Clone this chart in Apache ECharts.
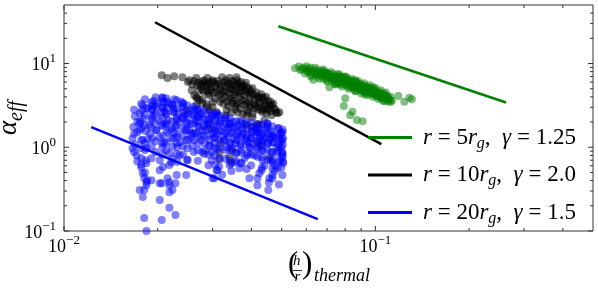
<!DOCTYPE html>
<html><head><meta charset="utf-8">
<script src="https://cdn.jsdelivr.net/npm/echarts@6/dist/echarts.min.js"></script>
<style>html,body{margin:0;padding:0;background:#fff}#c{width:598px;height:290px}</style>
</head><body><div id="c"></div>
<script>
// ---- data (x = (h/r)_thermal, y = alpha_eff) ----
const greenPts = [
[0.0552,8.8],[0.0568,9.2],[0.0575,8.3],[0.0588,8.9],[0.0595,7.6],[0.0602,8.5],[0.0610,7.9],[0.0618,8.9],[0.0625,7.3],[0.0632,6.4],
[0.0636,8.2],[0.0642,7.6],[0.0650,8.5],[0.0655,7.0],[0.0662,7.9],[0.0668,7.4],[0.0675,8.2],[0.0680,6.6],[0.0686,7.7],[0.0692,7.1],
[0.0698,6.4],[0.0704,7.6],[0.0710,6.9],[0.0712,5.2],[0.0716,7.3],[0.0722,6.3],[0.0728,6.9],[0.0734,7.5],[0.0740,6.1],[0.0745,6.7],
[0.0750,7.1],[0.0756,5.8],[0.0762,6.5],[0.0768,6.9],[0.0772,6.0],[0.0778,5.6],[0.0784,6.4],[0.0790,6.8],[0.0796,5.7],[0.0802,6.2],
[0.0808,5.4],[0.0814,6.5],[0.0820,5.9],[0.0826,5.2],[0.0832,6.2],[0.0838,5.6],[0.0844,6.0],[0.0850,5.0],[0.0856,5.8],[0.0862,5.4],
[0.0868,6.0],[0.0874,5.1],[0.0880,5.6],[0.0886,4.8],[0.0892,5.4],[0.0898,5.0],[0.0904,5.6],[0.0910,4.7],[0.0916,5.2],[0.0922,4.9],
[0.0928,5.4],[0.0934,4.5],[0.0940,5.0],[0.0946,4.7],[0.0952,5.2],[0.0958,4.4],[0.0964,4.9],[0.0970,4.6],[0.0976,5.0],[0.0982,4.3],
[0.0990,4.8],[0.0996,4.5],[0.1004,4.1],[0.1012,4.7],[0.1020,4.3],[0.1028,4.0],[0.1036,4.5],[0.1044,4.2],[0.1052,3.9],[0.1060,4.4],
[0.1068,4.0],[0.1076,4.2],[0.1084,3.8],[0.1092,4.1],[0.1100,3.9],[0.1110,3.7],[0.1120,4.0],[0.1130,3.6],
[0.0700,7.0],[0.0730,6.6],[0.0760,6.2],[0.0790,6.0],[0.0820,5.7],[0.0850,5.5],[0.0880,5.2],[0.0910,5.0],[0.0940,4.8],[0.0970,4.7],
[0.1000,4.5],[0.1030,4.3],[0.0745,5.6],[0.0805,6.9],[0.0865,4.7],[0.0925,4.3],[0.0985,5.2],[0.1045,3.8],[0.0690,8.0],[0.0765,7.3],
[0.0580,8.6],[0.0605,8.1],[0.0615,8.6],[0.0628,7.9],[0.0645,7.3],[0.0658,8.0],[0.0672,7.2],[0.0684,7.5],[0.0695,6.8],[0.0708,7.3],
[0.0720,6.7],[0.0732,7.0],[0.0742,6.4],[0.0754,6.6],[0.0766,6.3],[0.0775,6.6],[0.0786,6.1],[0.0798,6.5],[0.0810,5.9],[0.0822,6.3],
[0.0835,5.8],[0.0846,5.6],[0.0855,6.1],[0.0866,5.5],[0.0878,5.8],[0.0890,5.2],[0.0900,5.5],[0.0912,5.3],[0.0924,5.0],[0.0936,5.2],
[0.0948,4.8],[0.0960,5.0],[0.0972,4.5],[0.0984,4.7],[0.0995,4.3],[0.1008,4.5],[0.1018,4.1],[0.1032,4.4],[0.1048,4.0],[0.1058,4.2],
[0.1072,3.9],[0.1088,4.0],[0.0760,5.9],[0.0840,5.3],[0.0920,4.6],[0.0700,7.6],[0.0780,7.0],[0.0860,6.3],
[0.0600,9.3],[0.0640,8.9],[0.0680,8.5],[0.0720,7.9],[0.0760,7.5],[0.0800,7.0],[0.0840,6.6],[0.0880,6.2],[0.0920,5.8],[0.0960,5.5],
[0.1000,5.1],[0.1040,4.8],[0.1080,4.5],
[0.0620,7.0],[0.0660,6.6],[0.0700,6.1],[0.0740,5.7],[0.0780,5.3],[0.0820,5.0],[0.0860,4.7],[0.0900,4.4],[0.0940,4.2],[0.0980,4.0],
[0.1020,3.8],[0.1060,3.6],[0.1100,3.5],
[0.0800,3.85],[0.0792,3.1],[0.0844,2.65],[0.0830,2.42],[0.0872,2.11],[0.0910,2.05],[0.1185,4.1],[0.1239,3.49],[0.1286,3.9],[0.1310,3.75],
[0.1120,3.49],[0.1069,3.55]
];
const blackPts = [
[0.0206,7.25],[0.0215,6.7],[0.0226,7.05],[0.0240,6.85],[0.0253,6.3],[0.0266,6.7],[0.0278,6.15],[0.0289,6.7],[0.0300,6.3],[0.0322,6.85],
[0.0340,6.7],[0.0358,6.85],[0.0372,5.2],[0.0394,4.95],[0.0403,5.07],[0.0431,3.95],[0.0464,3.2],[0.0478,2.8],[0.0447,2.55],[0.0492,2.62],
[0.0418,1.89],[0.0403,2.28],[0.0385,2.4],
[0.0247,2.77],[0.0257,4.8],[0.0266,3.96],[0.0272,3.65],[0.0278,3.75],[0.0266,3.18],[0.0287,3.27],[0.0293,2.77],[0.0300,3.0],[0.0309,2.62],
[0.0333,2.77],[0.0347,3.36],[0.0355,2.85],[0.0388,2.77],[0.0262,4.18],[0.0268,3.85],[0.0278,3.36],[0.0293,4.18],[0.0287,3.0],[0.0293,1.94],
[0.0300,3.45],[0.0422,3.45],[0.0444,3.27],[0.0434,2.62],[0.0464,2.41],[0.0424,1.84],[0.0440,2.11],[0.0431,2.77],[0.0457,3.18],[0.0485,2.55],
[0.0385,1.84],[0.0401,1.74],[0.0418,1.15],[0.0431,1.06],[0.0319,1.12],[0.0347,0.924],[0.0316,0.874],[0.0340,0.762],[0.0316,0.72],[0.0345,0.646],
[0.0457,0.762],[0.0298,1.65],
[0.0270,5.9],[0.0275,5.3],[0.0271,4.75],[0.0282,6.3],[0.0285,5.45],[0.0281,4.6],[0.0292,5.8],[0.0295,5.1],[0.0291,4.4],
[0.0303,6.0],[0.0306,5.2],[0.0302,4.5],[0.0305,3.8],[0.0315,5.7],[0.0318,4.9],[0.0314,4.2],[0.0317,3.5],
[0.0327,6.0],[0.0330,5.3],[0.0326,4.7],[0.0329,4.0],[0.0325,3.3],[0.0339,5.6],[0.0342,5.1],[0.0338,4.4],[0.0341,3.8],[0.0337,3.1],
[0.0352,6.0],[0.0355,5.4],[0.0351,4.8],[0.0354,4.2],[0.0350,3.6],[0.0356,3.1],[0.0365,5.8],[0.0368,5.1],[0.0364,4.5],[0.0367,4.0],[0.0363,3.4],[0.0369,2.9],
[0.0379,5.5],[0.0382,4.8],[0.0378,4.2],[0.0381,3.6],[0.0377,3.2],[0.0393,4.4],[0.0396,3.9],[0.0392,3.5],[0.0395,3.0],
[0.0408,4.2],[0.0411,3.7],[0.0407,3.3],[0.0410,2.9],[0.0423,3.9],[0.0426,3.4],[0.0422,3.0],[0.0439,3.6],[0.0442,3.1],[0.0456,2.9],
[0.0250,6.0],[0.0258,5.6],[0.0262,6.2],[0.0268,5.5],[0.0276,5.7],[0.0284,5.9],[0.0290,5.4],[0.0297,6.1],[0.0308,5.6],[0.0312,6.2],
[0.0321,5.4],[0.0331,6.3],[0.0335,5.8],[0.0346,6.2],[0.0349,5.5],[0.0360,6.3],[0.0362,5.6],[0.0371,6.0],[0.0375,5.4],[0.0384,5.9],[0.0388,5.2],
[0.0278,4.9],[0.0288,4.7],[0.0297,4.8],[0.0310,4.6],[0.0320,4.4],[0.0333,4.6],[0.0345,4.9],[0.0357,4.5],[0.0372,4.7],[0.0386,4.5],
[0.0398,4.7],[0.0402,4.3],[0.0415,4.5],[0.0419,4.0],[0.0430,4.3],[0.0438,3.9],[0.0446,4.0],[0.0452,3.6],[0.0461,3.5],[0.0470,3.3],
[0.0322,3.8],[0.0335,3.5],[0.0347,3.9],[0.0358,3.3],[0.0372,3.7],[0.0385,3.3],[0.0398,3.2],[0.0412,3.1],[0.0420,2.8],[0.0436,2.9],
[0.0448,2.8],[0.0460,2.7],[0.0472,2.9],[0.0480,2.6],[0.0362,2.6],[0.0375,2.5],[0.0390,2.6],[0.0403,2.5],[0.0345,2.6],[0.0330,2.4]
];
const bluePts = [
[0.0179,3.18],[0.0175,2.55],[0.0175,1.94],[0.0172,1.51],[0.0179,1.22],[0.0184,0.976],[0.0188,1.84],[0.0191,2.28],[0.0192,2.77],[0.0195,3.18],
[0.0198,1.60],[0.0203,1.32],[0.0207,3.85],[0.0207,3.01],[0.0213,2.55],[0.0213,1.94],[0.0218,1.60],[0.0223,3.18],[0.0226,2.62],[0.0230,2.11],
[0.0231,1.32],[0.0231,1.00],[0.0235,0.805],[0.0240,2.28],[0.0247,1.94],[0.0247,1.22],[0.0253,1.60],[0.0257,1.32],[0.0262,2.77],[0.0268,2.28],
[0.0272,1.74],[0.0276,1.22],[0.0283,0.924],[0.0293,1.22],[0.0166,1.28],[0.0166,0.976],[0.0171,0.805],[0.0177,0.741],[0.0207,1.00],[0.0218,0.85],
[0.0172,0.683],[0.0177,0.579],[0.0184,0.646],[0.0179,0.49],[0.0181,0.428],[0.0185,0.405],[0.0175,0.308],[0.0179,0.254],[0.0184,0.353],[0.0181,0.143],
[0.0184,0.100],[0.0203,0.533],[0.0206,0.373],[0.0203,0.234],[0.0206,0.135],[0.0218,0.383],[0.0218,0.189],[0.0228,0.155],[0.0223,0.308],[0.0215,0.428],
[0.0230,0.465],[0.0221,0.664],[0.0249,0.702],[0.0247,0.465],[0.0278,0.874],[0.0300,0.428],[0.0311,0.533],[0.0340,0.612],[0.0348,0.976],[0.0380,0.741],
[0.0394,0.428],[0.0418,0.353],[0.0424,0.49],[0.0453,0.308],[0.0467,0.664],[0.0467,0.428],[0.0503,0.465],[0.0503,0.805],[0.0485,0.563],
[0.0182,0.50],[0.0184,0.383],[0.0181,0.308],[0.0191,0.405],[0.0203,0.373],[0.0218,0.353],[0.0218,0.291],[0.0228,0.373],[0.0218,0.612],[0.0203,0.702],
[0.0309,0.533],[0.0304,0.428],[0.0353,0.664],[0.0366,0.563],[0.0418,0.428],[0.0457,0.428],[0.0467,0.465],[0.0499,0.579],[0.0431,0.533],[0.0434,0.702],
[0.0298,0.702],
[0.0309,2.55],[0.0300,2.11],[0.0316,1.99],[0.0309,1.47],[0.0328,1.74],[0.0340,1.94],[0.0348,1.51],[0.0371,1.99],[0.0358,1.22],[0.0374,1.32],
[0.0403,1.60],[0.0424,1.51],[0.0450,1.94],[0.0447,1.32],[0.0434,1.12],[0.0467,1.32],[0.0499,1.47],[0.0503,1.22],[0.0492,1.00],[0.0481,0.85],
[0.0464,0.874],[0.0394,1.00],[0.0371,0.924],[0.0333,1.00],[0.0304,1.12],[0.0298,0.874],[0.0503,0.874],[0.0503,0.762],
[0.0207,3.96],[0.0210,3.45],[0.0226,3.75],[0.0192,3.18],[0.0240,3.01],[0.0268,2.85],[0.0276,2.48],[0.0298,2.48],[0.0311,2.41],[0.0340,1.89],
[0.0388,1.43],[0.0415,1.51],[0.0424,1.25],[0.0450,1.89],[0.0503,1.51],[0.0492,1.25],[0.0467,1.43],
[0.0180,2.2],[0.0178,1.7],[0.0186,2.9],[0.0189,1.45],[0.0194,2.4],[0.0200,3.3],[0.0205,2.6],[0.0208,1.8],[0.0210,1.15],[0.0215,3.5],
[0.0216,2.1],[0.0220,1.3],[0.0225,2.9],[0.0228,1.75],[0.0233,2.5],[0.0236,1.15],[0.0242,3.3],[0.0245,1.6],[0.0250,2.3],[0.0255,1.9],
[0.0258,1.05],[0.0260,2.5],[0.0265,1.5],[0.0270,2.0],[0.0274,1.35],[0.0280,2.2],[0.0285,1.6],[0.0290,1.9],[0.0295,1.05],[0.0302,1.7],
[0.0306,1.3],[0.0312,0.95],[0.0320,1.55],[0.0325,1.2],[0.0330,2.2],[0.0336,1.35],[0.0343,1.1],[0.0350,1.7],[0.0356,0.85],[0.0362,1.5],
[0.0368,1.1],[0.0376,1.7],[0.0384,1.2],[0.0390,0.85],[0.0398,1.3],[0.0405,1.1],[0.0410,0.8],[0.0416,1.7],[0.0420,0.95],[0.0428,1.35],
[0.0437,0.9],[0.0443,1.6],[0.0452,1.1],[0.0460,0.7],[0.0470,1.15],[0.0476,0.6],[0.0488,1.7],[0.0495,0.7],[0.0500,1.0],[0.0506,0.65],
[0.0306,0.62],[0.0322,0.47],[0.0345,0.52],[0.0372,0.65],[0.0386,0.55],[0.0440,0.6],[0.0455,0.38],[0.0475,0.52],[0.0490,0.36],
[0.0168,2.8],[0.0169,2.35],[0.0167,1.75],[0.0168,1.45],[0.0169,1.08],[0.0168,0.88],
[0.0177,3.3],[0.0178,2.75],[0.0176,2.05],[0.0175,1.62],[0.0177,1.22],[0.0176,0.98],[0.0177,0.62],
[0.0182,3.75],[0.0183,2.95],[0.0182,2.45],[0.0181,1.85],[0.0183,1.55],[0.0182,1.12],[0.0182,0.93],[0.0183,0.7],
[0.0191,3.45],[0.0192,2.85],[0.0191,2.15],[0.0190,1.75],[0.0192,1.28],[0.0191,1.03],[0.0191,0.74],
[0.0197,3.95],[0.0198,3.05],[0.0197,2.55],[0.0196,1.95],[0.0198,1.6],[0.0197,1.18],[0.0197,0.88],
[0.0207,3.55],[0.0208,2.95],[0.0207,2.25],[0.0206,1.85],[0.0208,1.38],[0.0207,1.12],[0.0207,0.82],[0.0208,0.58],
[0.0213,3.85],[0.0214,2.95],[0.0213,2.45],[0.0212,1.88],[0.0214,1.52],[0.0213,1.13],[0.0213,0.92],
[0.0223,3.25],[0.0224,2.65],[0.0223,2.05],[0.0222,1.68],[0.0224,1.27],[0.0223,1.02],[0.0223,0.73],
[0.0230,3.65],[0.0231,2.95],[0.0230,2.25],[0.0229,1.83],[0.0231,1.42],[0.0230,1.12],[0.0230,0.83],[0.0231,0.67],
[0.0241,3.35],[0.0242,2.65],[0.0241,2.2],[0.0240,1.67],[0.0242,1.37],[0.0241,1.03],[0.0241,0.82],
[0.0249,3.15],[0.0250,2.55],[0.0249,1.95],[0.0248,1.62],[0.0250,1.22],[0.0249,0.97],[0.0249,0.71],
[0.0261,3.05],[0.0262,2.35],[0.0261,1.92],[0.0260,1.47],[0.0262,1.22],[0.0261,0.88],
[0.0269,2.85],[0.0270,2.35],[0.0269,1.82],[0.0268,1.47],[0.0270,1.12],[0.0269,0.92],[0.0269,0.69],
[0.0282,2.75],[0.0283,2.15],[0.0282,1.78],[0.0281,1.37],[0.0283,1.12],[0.0282,0.83],
[0.0291,2.55],[0.0292,2.12],[0.0291,1.67],[0.0290,1.37],[0.0292,1.03],[0.0291,0.82],[0.0291,0.61],
[0.0305,2.45],[0.0306,2.03],[0.0305,1.58],[0.0304,1.32],[0.0306,0.98],[0.0305,0.79],
[0.0315,2.42],[0.0316,1.92],[0.0315,1.57],[0.0314,1.22],[0.0316,1.0],[0.0315,0.74],[0.0315,0.59],
[0.0330,2.25],[0.0331,1.88],[0.0330,1.47],[0.0329,1.22],[0.0331,0.93],[0.0330,0.73],
[0.0341,2.22],[0.0342,1.77],[0.0341,1.47],[0.0340,1.13],[0.0342,0.92],[0.0341,0.69],
[0.0357,2.05],[0.0358,1.72],[0.0357,1.38],[0.0356,1.12],[0.0358,0.86],[0.0357,0.69],
[0.0369,2.08],[0.0370,1.62],[0.0369,1.37],[0.0368,1.06],[0.0370,0.87],[0.0369,0.64],
[0.0386,1.97],[0.0387,1.62],[0.0386,1.28],[0.0385,1.07],[0.0387,0.8],
[0.0399,1.98],[0.0400,1.52],[0.0399,1.27],[0.0398,0.98],[0.0400,0.82],[0.0399,0.61],
[0.0417,1.87],[0.0418,1.52],[0.0417,1.18],[0.0416,0.99],[0.0418,0.77],
[0.0432,1.88],[0.0433,1.43],[0.0432,1.2],[0.0431,0.93],[0.0433,0.76],[0.0432,0.57],
[0.0451,1.77],[0.0452,1.47],[0.0451,1.13],[0.0450,0.94],[0.0452,0.71],
[0.0467,1.78],[0.0468,1.38],[0.0467,1.14],[0.0466,0.88],[0.0468,0.71],[0.0467,0.56],
[0.0488,1.68],[0.0489,1.37],[0.0488,1.08],[0.0487,0.9],[0.0489,0.67],
[0.0504,1.62],[0.0505,1.28],[0.0504,1.07],[0.0503,0.84],[0.0505,0.67],
[0.0172,2.0],[0.0186,1.25],[0.0194,3.6],[0.0202,2.1],[0.0210,2.7],[0.0218,3.3],[0.0226,1.5],[0.0235,2.0],[0.0238,3.5],[0.0245,2.4],
[0.0254,2.8],[0.0256,1.45],[0.0264,2.1],[0.0274,2.6],[0.0278,1.6],[0.0287,1.9],[0.0297,2.3],[0.0300,1.45],[0.0310,1.8],[0.0320,2.1],
[0.0324,1.35],[0.0335,1.65],[0.0348,2.0],[0.0352,1.25],[0.0362,1.85],[0.0376,1.45],[0.0380,1.9],[0.0392,1.15],[0.0406,1.75],[0.0410,1.4],
[0.0422,1.65],[0.0426,1.05],[0.0440,1.3],[0.0445,1.7],[0.0458,1.25],[0.0462,1.55],[0.0478,1.3],[0.0482,1.0],[0.0495,1.45],[0.0498,1.2]
];
const line5 = [[0.0488,27.9],[0.263,3.43]];
const line10 = [[0.0196,31.1],[0.1045,1.09]];
const line20 = [[0.01223,1.738],[0.0653,0.1387]];
const legendLabels = {
  r5: '{i|r}{n| = 5}{i|r}{g|g}{n|,  }{i|γ}{n| = 1.25}',
  r10: '{i|r}{n| = 10}{i|r}{g|g}{n|,  }{i|γ}{n| = 2.0}',
  r20: '{i|r}{n| = 20}{i|r}{g|g}{n|,  }{i|γ}{n| = 1.5}'
};
const xMajorTicks = [0.01, 0.1];
const xMinorTicks = [0.02,0.03,0.04,0.05,0.06,0.07,0.08,0.09,0.2,0.3,0.4];
const yMajorTicks = [0.1, 1, 10];
const yMinorTicks = [0.2,0.3,0.4,0.5,0.6,0.7,0.8,0.9,2,3,4,5,6,7,8,9,20,30,40];

// ---- chart ----
const SERIF = '"Liberation Serif", "DejaVu Serif", serif';
const chart = echarts.init(document.getElementById('c'), null, {renderer: 'canvas'});
function powLabel(v) {
  const e = Math.log10(v), r = Math.round(e);
  if (Math.abs(e - r) > 1e-6) return '';
  return '{b|10}{s|' + (r < 0 ? '\u2212' + (-r) : r) + '}';
}
const labelRich = {
  b: {fontFamily: SERIF, fontSize: 18, color: '#000', lineHeight: 22, verticalAlign: 'bottom'},
  s: {fontFamily: SERIF, fontSize: 13, color: '#000', lineHeight: 22, verticalAlign: 'top', padding: [0, 0, 6, 0]}
};
function tickSeries(vals, dim, len) {
  return {
    type: 'custom', silent: true, z: 10, clip: false,
    data: vals.map(v => dim === 'x' ? [v, 1] : [0.1, v]),
    renderItem: function (params, api) {
      const cs = params.coordSys;
      const p = api.coord([api.value(0), api.value(1)]);
      const st = {stroke: '#333', lineWidth: 1};
      if (dim === 'x') {
        const b = cs.y + cs.height;
        return {type: 'group', children: [
          {type: 'line', shape: {x1: p[0], y1: b, x2: p[0], y2: b - len}, style: st},
          {type: 'line', shape: {x1: p[0], y1: cs.y, x2: p[0], y2: cs.y + len}, style: st}
        ]};
      }
      const r = cs.x + cs.width;
      return {type: 'group', children: [
        {type: 'line', shape: {x1: cs.x, y1: p[1], x2: cs.x + len, y2: p[1]}, style: st},
        {type: 'line', shape: {x1: r, y1: p[1], x2: r - len, y2: p[1]}, style: st}
      ]};
    }
  };
}
function scatter(data, color) {
  return {type: 'scatter', data: data, symbol: 'circle', symbolSize: 8, silent: true,
    itemStyle: {color: color, opacity: 0.5}, z: 2};
}
function powerLine(name, data, color) {
  return {type: 'line', name: name, data: data, showSymbol: false, silent: true, z: 3,
    lineStyle: {color: color, width: 2.5}, itemStyle: {color: color}};
}
const legendRich = {
  i: {fontFamily: SERIF, fontStyle: 'italic', fontSize: 23, color: '#000', lineHeight: 20},
  n: {fontFamily: SERIF, fontSize: 23, color: '#000', lineHeight: 20},
  g: {fontFamily: SERIF, fontStyle: 'italic', fontSize: 16, color: '#000', lineHeight: 20, verticalAlign: 'bottom', padding: [0, 0, -4, 0]}
};
chart.setOption({
  animation: false,
  backgroundColor: '#fff',
  grid: {left: 64, right: 5, top: 5, bottom: 59, show: true, borderColor: '#333', borderWidth: 1,
    backgroundColor: 'transparent', outerBoundsMode: 'none', containLabel: false},
  xAxis: {
    type: 'log', logBase: 10, min: 0.01, max: 0.5,
    axisLine: {show: false}, axisTick: {show: false}, splitLine: {show: false},
    axisLabel: {formatter: powLabel, rich: labelRich, margin: 3, showMaxLabel: false}
  },
  yAxis: {
    type: 'log', logBase: 10, min: 0.1, max: 50,
    axisLine: {show: false}, axisTick: {show: false}, splitLine: {show: false},
    axisLabel: {formatter: powLabel, rich: labelRich, margin: 8, showMaxLabel: false},
    name: '{a|α}{s|eff}', nameLocation: 'middle', nameRotate: 90, nameGap: 42, nameMoveOverlap: false,
    nameTextStyle: {rich: {
      a: {fontFamily: SERIF, fontStyle: 'italic', fontSize: 27, color: '#000', lineHeight: 28, verticalAlign: 'bottom'},
      s: {fontFamily: SERIF, fontStyle: 'italic', fontSize: 20, color: '#000', lineHeight: 28, verticalAlign: 'bottom', padding: [0, 0, -5, 0]}
    }}
  },
  legend: {
    orient: 'vertical', left: 363, top: 121, padding: 5, itemWidth: 44, itemHeight: 3, itemGap: 12, icon: 'rect',
    data: ['r5', 'r10', 'r20'],
    formatter: n => legendLabels[n],
    textStyle: {padding: [0, 0, 0, 6], rich: legendRich},
    selectedMode: false
  },
  graphic: [
    {type: 'text', left: 288, top: 249, style: {text: '(', font: 'normal 31px ' + SERIF, fill: '#000'}},
    {type: 'text', left: 293, top: 254, style: {text: 'h', font: 'italic 15px ' + SERIF, fill: '#000'}},
    {type: 'line', shape: {x1: 293, y1: 270.5, x2: 302, y2: 270.5}, style: {stroke: '#000', lineWidth: 0.8}},
    {type: 'text', left: 294.5, top: 270, style: {text: 'r', font: 'italic 15px ' + SERIF, fill: '#000'}},
    {type: 'text', left: 302, top: 249, style: {text: ')', font: 'normal 31px ' + SERIF, fill: '#000'}},
    {type: 'text', left: 314, top: 267, style: {text: 'thermal', font: 'italic 18px ' + SERIF, fill: '#000'}}
  ],
  series: [
    scatter(greenPts, '#008000'),
    scatter(blackPts, '#000000'),
    scatter(bluePts, '#0000ff'),
    powerLine('r5', line5, '#008000'),
    powerLine('r10', line10, '#000000'),
    powerLine('r20', line20, '#0000ff'),
    tickSeries(xMajorTicks, 'x', 5),
    tickSeries(xMinorTicks, 'x', 3),
    tickSeries(yMajorTicks, 'y', 5),
    tickSeries(yMinorTicks, 'y', 3)
  ]
});
</script></body></html>
